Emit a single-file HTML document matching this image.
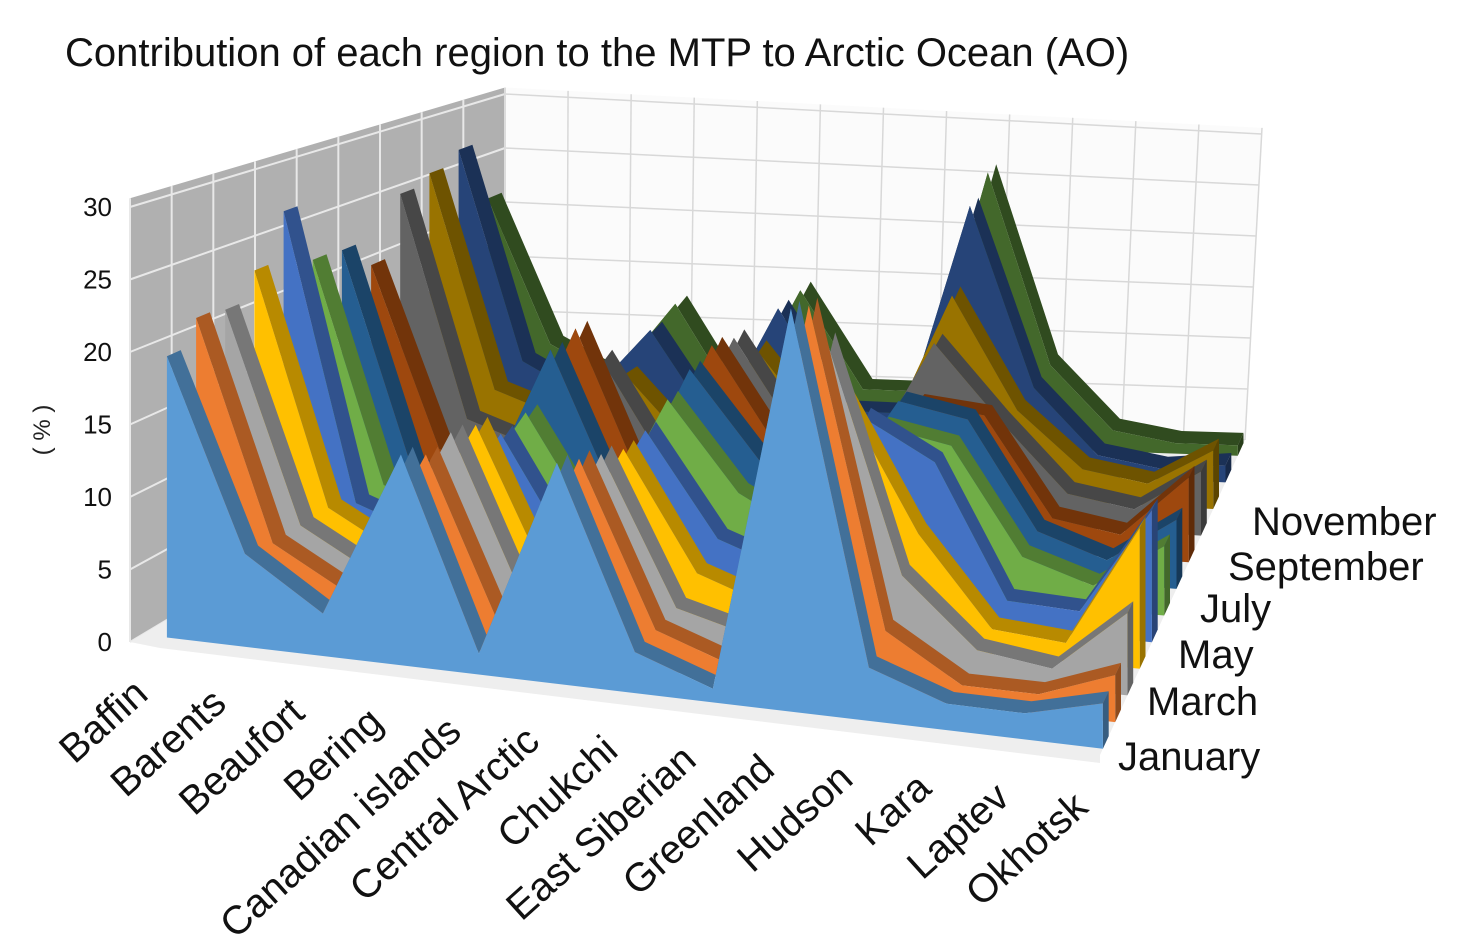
<!DOCTYPE html>
<html><head><meta charset="utf-8">
<style>
html,body{margin:0;padding:0;background:#fff;}
svg{display:block;font-family:"Liberation Sans","DejaVu Sans",sans-serif;}
</style></head>
<body>
<svg id="chart" width="1467" height="940" viewBox="0 0 1467 940" xmlns="http://www.w3.org/2000/svg">
<text x="65" y="66" font-size="40" fill="#111">Contribution of each region to the MTP to Arctic Ocean (AO)</text>
<text x="0" y="0" font-size="24" fill="#222" transform="translate(50,430) rotate(-90)" text-anchor="middle">( % )</text>
<g id="walls"></g>
<g id="series"></g>
<g id="labels"></g>
</svg>
<script>
const regions = ["Baffin","Barents","Beaufort","Bering","Canadian islands","Central Arctic","Chukchi","East Siberian","Greenland","Hudson","Kara","Laptev","Okhotsk"];
const months = ["January","February","March","April","May","June","July","August","September","October","November","December"];
const monthLabels = ["January","March","May","July","September","November"];
const yTicks = [0,5,10,15,20,25,30];
const jan = [19.5,6.5,3,15,1.5,16,3,1,30,4,2,2,3.5];
const feb = [21.3,6,3,13.8,1.5,15,3,1,29,5,1.5,1.5,3.7];
const mar = [21,6,3,14.2,2,14,3,1.5,25,7.5,2.3,1.5,6.6];
const apr = [23,6,3,13.5,2,13,4,2,19,9,2,1.5,11.5];
const may = [26.6,5,3,11.5,2.5,13,5,3,16,13,2.3,2,11];
const jun = [22,5,3,11.8,3,14,7,4,13.6,12.6,3.9,2,5.9];
const jul = [21.8,5,3,15.5,3,15,8,5,14,13,4,2,6];
const aug = [19.6,5,3,15.9,3,15.5,7,5,12,11.5,3,2,7.5];
const sep = [24.5,6,4,12,3,14.6,6,5,15.5,9,3,2,5.8];
const oct = [25.3,7,5,9,3,12,5,5,18,8,3,2,5.4];
const nov = [26.4,8,5,11.4,3,14,5,5,24.5,8,2,1,1.6];
const dec = [21,8,5,12.2,3,14,5,5,26,8,2,1,1];
const seriesValues = [jan,feb,mar,apr,may,jun,jul,aug,sep,oct,nov,dec];
const colors = ["#5B9BD5","#ED7D31","#A5A5A5","#FFC000","#4472C4","#70AD47","#255E91","#9E480E","#636363","#997300","#264478","#43682B"];

const NS="http://www.w3.org/2000/svg";
const FL=[160,642],FR=[1100,755],BL=[505,418],BR=[1245,440];
function lerp(a,b,t){return a+(b-a)*t;}
function floorPt(u,w){
  const fx=lerp(FL[0],FR[0],u), fy=lerp(FL[1],FR[1],u);
  const bx=lerp(BL[0],BR[0],u), by=lerp(BL[1],BR[1],u);
  return [lerp(fx,bx,w), lerp(fy,by,w)];
}
function scaleAt(u,w){return lerp(lerp(14.5,13,u), lerp(10.8,10.2,u), w);}
function proj(u,w,v){const p=floorPt(u,w);return [p[0], p[1]-v*scaleAt(u,w)];}
function xU(i){return i/(regions.length-1);}
function wM(m){return 0.02 + m/(months.length-1)*0.93;}
function shade(hex,f){
  const n=parseInt(hex.slice(1),16);
  const r=Math.round(((n>>16)&255)*f),g=Math.round(((n>>8)&255)*f),b=Math.round((n&255)*f);
  return `rgb(${r},${g},${b})`;
}
function poly(parent,pts,fill,name){
  const p=document.createElementNS(NS,"polygon");
  p.setAttribute("points",pts.map(q=>q[0].toFixed(1)+","+q[1].toFixed(1)).join(" "));
  p.setAttribute("fill",fill);
  
  
  parent.appendChild(p);return p;
}
function line(parent,a,b,stroke,sw,name){
  const l=document.createElementNS(NS,"line");
  l.setAttribute("x1",a[0]);l.setAttribute("y1",a[1]);l.setAttribute("x2",b[0]);l.setAttribute("y2",b[1]);
  l.setAttribute("stroke",stroke);l.setAttribute("stroke-width",sw);
  
  
  parent.appendChild(l);
}
function txt(parent,x,y,s,size,anchor,name,tr){
  const t=document.createElementNS(NS,"text");
  t.setAttribute("x",x);t.setAttribute("y",y);t.setAttribute("font-size",size);
  t.setAttribute("text-anchor",anchor);t.setAttribute("fill","#111");
  if(tr)t.setAttribute("transform",tr);
  t.textContent=s;
  
  
  parent.appendChild(t);
}
// walls
const walls=document.getElementById("walls");
const topV=30.6;
const wallL=[[130,642],[BL[0],BL[1]],[BL[0],BL[1]-topV*10.8],[130,642-topV*14.5]];
poly(walls,wallL,"#b0b0b0","left-wall");
const wallB=[[BL[0],BL[1]],[BR[0],BR[1]],[BR[0]+17,BR[1]-topV*10.2],[BL[0],BL[1]-topV*10.8]];
poly(walls,wallB,"#fbfbfb","back-wall");
for(const v of [0,5,10,15,20,25,30]){
  line(walls,[130,642-v*14.5],[BL[0],BL[1]-v*10.8],"#e8e8e8",2,"left-wall-gridline");
  line(walls,[BL[0],BL[1]-v*10.8],[BR[0]+v*0.55,BR[1]-v*10.2],"#d8d8d8",1.5,"back-wall-gridline");
}
for(let k=0;k<=9;k++){
  const t=k/9;
  const a=[lerp(130,BL[0],t),lerp(642,BL[1],t)];
  line(walls,a,[a[0],lerp(642-topV*14.5,BL[1]-topV*10.8,t)],"#e8e8e8",2,"left-wall-vgrid");
}
for(let k=0;k<=12;k++){
  const t=k/12;
  const a=[lerp(BL[0],BR[0],t),lerp(BL[1],BR[1],t)];
  line(walls,a,[lerp(BL[0],BR[0]+17,t),lerp(BL[1]-topV*10.8,BR[1]-topV*10.2,t)],"#d8d8d8",1.5,"back-wall-vgrid");
}
poly(walls,[[130,642],[FL[0],FL[1]+6],[FR[0],FR[1]+8],[FR[0],FR[1]],[BR[0],BR[1]],[BL[0],BL[1]]],"#eeeeee","floor");
// series back to front
const sg=document.getElementById("series");
const dw=0.04;
for(let m=months.length-1;m>=0;m--){
  const vals=seriesValues[m], c=colors[m], w=wM(m);
  const g=document.createElementNS(NS,"g");
  
  
  sg.appendChild(g);
  const n=vals.length;
  const topF=vals.map((v,i)=>proj(xU(i),w,v));
  const topB=vals.map((v,i)=>proj(xU(i),w+dw,v));
  poly(g,topF.concat(topB.slice().reverse()),shade(c,0.72),"series-top-face");
  poly(g,[floorPt(1,w),topF[n-1],topB[n-1],floorPt(1,w+dw)],shade(c,0.6),"series-end-cap");
  poly(g,topF.concat([floorPt(1,w),floorPt(0,w)]),c,"series-front-face");
}
// labels
const lg=document.getElementById("labels");
yTicks.forEach(v=>{const y=642-v*14.5; txt(lg,112,y+9,String(v),26,"end","y-tick-label");});
regions.forEach((r,i)=>{
  const p=floorPt(xU(i),0);
  const x=p[0]-10,y=p[1]+55;
  txt(lg,x,y,r,40,"end","x-category-label",`rotate(-42 ${x} ${y})`);
});
const mPos=[[1118,770],[1147,715],[1178,668],[1200,622],[1228,580],[1252,535]];
monthLabels.forEach((s,k)=>{txt(lg,mPos[k][0],mPos[k][1],s,40,"start","depth-axis-label");});
</script>
</body></html>
